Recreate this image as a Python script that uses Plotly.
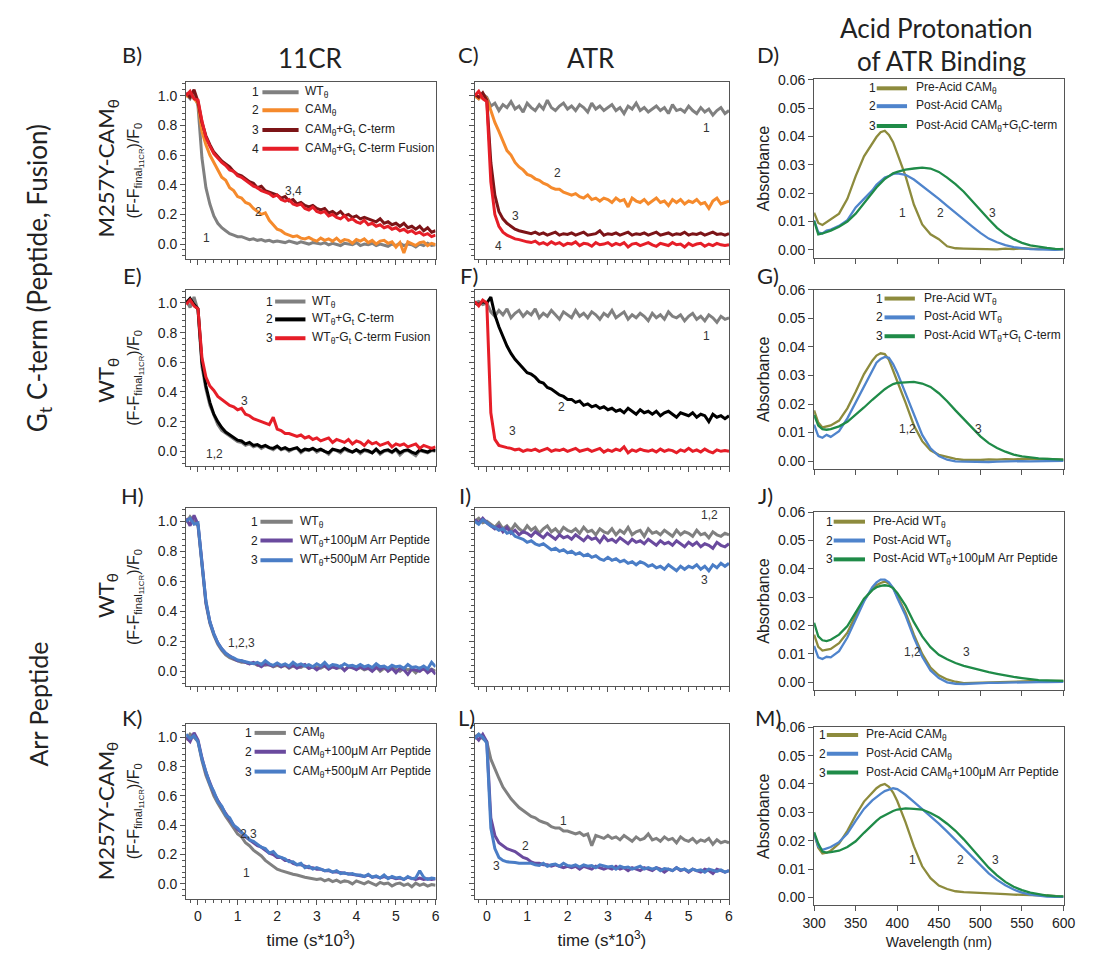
import plotly.graph_objects as go

FIG_W, FIG_H = 1100, 959

# ---------------- data ----------------
T = [-0.3, -0.2, -0.1, 0.0,
     0.1, 0.2, 0.3, 0.4, 0.5, 0.6, 0.7, 0.8, 0.9, 1.0,
     1.1, 1.2, 1.3, 1.4, 1.5, 1.6, 1.7, 1.8, 1.9, 2.0,
     2.1, 2.2, 2.3, 2.4, 2.5, 2.6, 2.7, 2.8, 2.9, 3.0,
     3.1, 3.2, 3.3, 3.4, 3.5, 3.6, 3.7, 3.8, 3.9, 4.0,
     4.1, 4.2, 4.3, 4.4, 4.5, 4.6, 4.7, 4.8, 4.9, 5.0,
     5.1, 5.2, 5.3, 5.4, 5.5, 5.6, 5.7, 5.8, 5.9, 6.0]

# B) 11CR, M257Y-CAM
B_WT = [1.01, 0.98, 1.03, 0.93,
        0.58, 0.38, 0.27, 0.19, 0.14, 0.11, 0.09, 0.07, 0.06, 0.05,
        0.05, 0.04, 0.03, 0.035, 0.025, 0.03, 0.02, 0.025, 0.015, 0.02,
        0.015, 0.01, 0.02, 0.01, 0.005, 0.015, 0.01, 0.0, 0.01, 0.005,
        0.0, 0.01, -0.005, 0.005, 0.0, -0.01, 0.005, 0.0, -0.005, 0.01,
        -0.01, 0.0, -0.005, 0.005, -0.01, 0.0, -0.005, -0.015, 0.0, -0.01,
        0.005, -0.01, 0.0, -0.005, -0.02, 0.0, -0.01, 0.005, -0.01, -0.005]
B_CAM = [0.99, 1.02, 0.98, 0.95,
         0.76, 0.67, 0.6, 0.55, 0.5, 0.45, 0.43, 0.38, 0.36, 0.32,
         0.31, 0.28, 0.27, 0.24, 0.22, 0.2, 0.21, 0.16, 0.13, 0.1,
         0.09, 0.07, 0.06, 0.05, 0.055, 0.04, 0.035, 0.045, 0.03, 0.02,
         0.04, 0.025, 0.035, 0.02, 0.04, 0.015, 0.03, 0.025, 0.005, 0.03,
         0.02, 0.035, 0.01, 0.025, 0.0, 0.02, 0.025, 0.005, 0.015, -0.02,
         0.01, -0.06, 0.015, 0.0, -0.01, 0.01, 0.015, -0.01, 0.005, -0.005]
B_GT = [1.02, 0.99, 1.04, 0.96,
        0.82, 0.73, 0.67, 0.62, 0.59, 0.56, 0.54, 0.52, 0.49, 0.47,
        0.46, 0.44, 0.42, 0.41, 0.38, 0.39, 0.36, 0.35, 0.34, 0.33,
        0.31, 0.32, 0.29, 0.3, 0.27, 0.28, 0.26, 0.25, 0.26, 0.24,
        0.23, 0.24, 0.21, 0.22, 0.2, 0.22, 0.19, 0.2, 0.18, 0.19,
        0.17, 0.18, 0.17, 0.16, 0.15, 0.17, 0.14, 0.15, 0.13, 0.14,
        0.12, 0.14, 0.11, 0.12, 0.1, 0.12, 0.09, 0.11, 0.08, 0.09]
B_FUS = [1.0, 1.03, 0.98, 0.97,
         0.83, 0.72, 0.66, 0.61, 0.58, 0.55, 0.53, 0.5, 0.49, 0.46,
         0.45, 0.43, 0.41, 0.39, 0.38, 0.36, 0.35, 0.34, 0.32, 0.33,
         0.3, 0.29, 0.3, 0.27, 0.26, 0.27, 0.24, 0.23, 0.25, 0.22,
         0.21, 0.22, 0.19, 0.2, 0.18, 0.17, 0.19, 0.16, 0.17, 0.15,
         0.14, 0.16, 0.13, 0.14, 0.12, 0.13, 0.11, 0.12, 0.1, 0.11,
         0.09, 0.1, 0.08, 0.09, 0.07, 0.08, 0.06, 0.07, 0.05, 0.06]

# C) ATR, M257Y-CAM
C_WT = [1.0, 0.98, 1.01, 0.99,
        0.93, 0.95, 0.9, 0.94, 0.92, 0.96, 0.91, 0.93, 0.89, 0.95,
        0.92, 0.9, 0.94, 0.91, 0.97, 0.92, 0.9, 0.93, 0.95, 0.91,
        0.93, 0.9, 0.94, 0.92, 0.89, 0.95, 0.91, 0.93, 0.9, 0.92,
        0.94, 0.9, 0.92, 0.88, 0.93, 0.91, 0.95, 0.9, 0.92, 0.89,
        0.91, 0.93, 0.9, 0.92, 0.88, 0.94, 0.9, 0.91, 0.89, 0.93,
        0.9, 0.88, 0.92, 0.89, 0.91, 0.87, 0.9, 0.92, 0.88, 0.9]
C_CAM = [1.0, 0.98, 1.01, 0.98,
         0.9, 0.82, 0.76, 0.69, 0.63, 0.6, 0.55, 0.52, 0.5, 0.47,
         0.46, 0.44, 0.43, 0.41, 0.4, 0.38, 0.37, 0.37, 0.35, 0.34,
         0.33, 0.34, 0.32, 0.31, 0.33, 0.3, 0.31, 0.29, 0.31, 0.3,
         0.28, 0.31, 0.29, 0.3, 0.25, 0.31, 0.29, 0.28, 0.3, 0.27,
         0.29, 0.31, 0.28, 0.29, 0.26, 0.3, 0.28, 0.3, 0.27, 0.29,
         0.28, 0.3, 0.27, 0.28, 0.24, 0.29, 0.31, 0.27, 0.28, 0.29]
C_GT = [1.01, 0.99, 1.02, 0.97,
        0.55, 0.33, 0.22, 0.17, 0.14, 0.12, 0.1, 0.09, 0.085, 0.08,
        0.07, 0.08, 0.065, 0.075, 0.06, 0.07, 0.08, 0.06, 0.07, 0.065,
        0.075, 0.06, 0.07, 0.08, 0.06, 0.065, 0.07, 0.09, 0.06, 0.07,
        0.065, 0.075, 0.06, 0.07, 0.08, 0.06, 0.07, 0.065, 0.075, 0.06,
        0.07, 0.08, 0.06, 0.065, 0.075, 0.06, 0.07, 0.065, 0.08, 0.06,
        0.07, 0.065, 0.075, 0.06, 0.07, 0.08, 0.065, 0.07, 0.06, 0.07]
C_FUS = [1.0, 1.03, 0.98, 0.96,
         0.42, 0.2, 0.12, 0.08, 0.06, 0.045, 0.035, 0.03, 0.02, 0.015,
         0.01, 0.02, 0.0, 0.01, -0.005, 0.015, 0.0, 0.01, -0.01, 0.005,
         0.0, 0.015, -0.01, 0.005, 0.0, -0.015, 0.01, -0.005, 0.0, 0.01,
         -0.01, 0.005, -0.005, 0.01, -0.02, 0.0, 0.005, -0.01, 0.0, 0.01,
         -0.005, -0.015, 0.005, 0.0, -0.01, 0.01, -0.005, 0.0, -0.02, 0.005,
         -0.01, 0.0, 0.005, -0.015, 0.0, -0.01, 0.005, -0.005, -0.01, -0.005]

# E) 11CR, WT
E_WT = [1.02, 0.97, 1.04, 0.95,
        0.57, 0.42, 0.31, 0.24, 0.18, 0.14, 0.12, 0.1, 0.08, 0.065,
        0.06, 0.04, 0.05, 0.03, 0.04, 0.02, 0.035, 0.02, 0.01, 0.03,
        0.01, 0.02, 0.0, 0.015, 0.02, -0.01, 0.01, 0.005, 0.02, -0.005,
        0.01, 0.0, -0.02, 0.01, 0.005, -0.01, 0.015, 0.0, -0.005, 0.01,
        -0.015, 0.005, 0.0, -0.01, 0.01, -0.02, 0.0, 0.005, -0.01, 0.01,
        -0.025, 0.0, 0.005, -0.01, -0.03, 0.005, 0.0, -0.01, 0.005, 0.0]
E_GT = [1.0, 1.03, 0.99, 0.96,
        0.6, 0.44, 0.33, 0.25, 0.2, 0.16, 0.13, 0.11, 0.09, 0.075,
        0.07, 0.05, 0.06, 0.04, 0.045, 0.03, 0.04, 0.025, 0.02, 0.035,
        0.015, 0.025, 0.01, 0.02, 0.025, 0.0, 0.015, 0.01, 0.02, 0.005,
        0.015, 0.0, -0.01, 0.015, 0.005, 0.0, 0.02, 0.005, -0.005, 0.01,
        -0.005, 0.01, 0.005, -0.01, 0.015, -0.01, 0.005, 0.01, -0.005, 0.015,
        -0.01, 0.005, 0.01, -0.005, -0.015, 0.01, 0.0, -0.005, 0.01, 0.005]
E_FUS = [0.99, 1.02, 0.98, 0.96,
         0.63, 0.5, 0.44, 0.41, 0.37, 0.35, 0.33, 0.31, 0.3, 0.28,
         0.29, 0.25, 0.24, 0.22, 0.21, 0.2, 0.19, 0.18, 0.23, 0.15,
         0.14, 0.12, 0.12, 0.11, 0.1, 0.11, 0.09, 0.1, 0.08, 0.09,
         0.07, 0.08, 0.09, 0.06, 0.08, 0.07, 0.06, 0.08, 0.05, 0.07,
         0.06, 0.04, 0.07, 0.05, 0.06, 0.04, 0.05, 0.06, 0.03, 0.05,
         0.04, 0.05, 0.03, 0.04, 0.05, 0.02, 0.04, 0.03, 0.02, 0.03]

# F) ATR, WT
F_WT = [1.0, 1.01, 0.99, 1.0,
        0.94, 0.91, 0.95, 0.92, 0.96, 0.9, 0.93, 0.95, 0.91, 0.94,
        0.92, 0.96, 0.9, 0.93, 0.91, 0.95, 0.92, 0.89, 0.94, 0.92,
        0.9, 0.95, 0.91, 0.93, 0.9, 0.94, 0.92, 0.89, 0.93, 0.91,
        0.95, 0.9, 0.92, 0.94, 0.89, 0.92, 0.9, 0.93, 0.91, 0.88,
        0.93, 0.9, 0.92, 0.89, 0.94, 0.91, 0.9, 0.92, 0.88, 0.91,
        0.93, 0.89, 0.91, 0.88, 0.92, 0.9, 0.87, 0.91, 0.89, 0.9]
F_GT = [1.0, 0.99, 1.01, 1.0,
        1.04, 0.92, 0.84, 0.77, 0.71, 0.66, 0.62, 0.59, 0.56, 0.53,
        0.52, 0.5, 0.47, 0.46, 0.43, 0.42, 0.4, 0.38, 0.37, 0.35,
        0.35, 0.33, 0.34, 0.31, 0.32, 0.3, 0.31, 0.29, 0.3, 0.28,
        0.29, 0.27, 0.28, 0.26, 0.29, 0.27, 0.25, 0.28, 0.26, 0.27,
        0.25, 0.27, 0.24, 0.26, 0.27, 0.25, 0.23, 0.26, 0.25, 0.24,
        0.26, 0.23, 0.25, 0.24, 0.2, 0.25, 0.23, 0.24, 0.22, 0.24]
F_FUS = [1.01, 0.98, 1.02, 1.0,
         0.26, 0.08, 0.04, 0.03, 0.025, 0.02, 0.01, 0.015, 0.0, 0.01,
         0.005, 0.015, 0.0, 0.01, 0.02, 0.0, 0.01, 0.005, 0.015, 0.0,
         0.01, 0.02, 0.0, 0.005, 0.015, 0.0, 0.01, 0.02, -0.005, 0.01,
         0.0, 0.015, 0.005, 0.03, -0.01, 0.01, 0.0, 0.015, 0.005, 0.0,
         0.01, -0.005, 0.015, 0.0, 0.01, 0.005, -0.01, 0.01, 0.0, 0.02,
         0.0, 0.01, -0.005, 0.015, 0.0, -0.01, 0.01, 0.0, 0.005, 0.0]

# H) 11CR, WT + Arr peptide
H_WT = [0.99, 1.03, 1.0, 0.97,
        0.71, 0.45, 0.32, 0.24, 0.18, 0.14, 0.11, 0.09, 0.08, 0.07,
        0.06, 0.06, 0.05, 0.055, 0.04, 0.05, 0.04, 0.045, 0.03, 0.04,
        0.03, 0.04, 0.02, 0.035, 0.03, 0.025, 0.04, 0.02, 0.03, 0.025,
        0.02, 0.035, 0.015, 0.03, 0.02, 0.025, 0.01, 0.03, 0.02, 0.015,
        0.025, 0.01, 0.02, 0.015, 0.03, 0.0, 0.02, 0.01, 0.025, 0.015,
        0.0, 0.02, 0.01, 0.015, -0.01, 0.02, 0.01, 0.005, 0.015, 0.0]
H_100 = [1.02, 0.97, 1.04, 0.98,
         0.73, 0.46, 0.33, 0.25, 0.19, 0.15, 0.12, 0.1, 0.085, 0.07,
         0.07, 0.06, 0.05, 0.06, 0.045, 0.03, 0.05, 0.04, 0.035, 0.05,
         0.03, 0.045, 0.025, 0.04, 0.02, 0.035, 0.045, 0.02, 0.03, 0.01,
         0.03, 0.04, 0.015, 0.03, 0.02, 0.035, 0.005, 0.03, 0.025, 0.01,
         0.03, 0.015, 0.02, 0.0, 0.025, 0.01, 0.03, 0.0, 0.02, -0.01,
         0.02, 0.01, -0.02, 0.015, 0.01, 0.0, 0.02, -0.01, 0.01, -0.02]
H_500 = [1.0, 1.02, 0.98, 0.99,
         0.72, 0.47, 0.33, 0.25, 0.19, 0.15, 0.12, 0.1, 0.09, 0.075,
         0.07, 0.065, 0.06, 0.05, 0.06, 0.045, 0.07, 0.05, 0.04, 0.055,
         0.04, 0.05, 0.035, 0.06, 0.04, 0.05, 0.035, 0.045, 0.03, 0.05,
         0.035, 0.06, 0.03, 0.045, 0.04, 0.03, 0.05, 0.035, 0.04, 0.03,
         0.045, 0.03, 0.04, 0.025, 0.05, 0.03, 0.035, 0.02, 0.04, 0.03,
         0.035, 0.02, 0.045, 0.025, 0.03, 0.02, 0.035, 0.015, 0.06, 0.03]

# I) ATR, WT + Arr peptide
I_WT = [1.0, 1.02, 0.99, 1.0,
        0.98, 0.96, 0.99, 0.95, 0.97, 0.94, 0.98, 0.95, 0.93, 0.97,
        0.94, 0.96, 0.92, 0.95, 0.97, 0.93, 0.95, 0.92, 0.96, 0.94,
        0.93, 0.95, 0.92, 0.96, 0.93, 0.94, 0.91, 0.95, 0.93, 0.92,
        0.95, 0.91, 0.94, 0.92, 0.96, 0.91, 0.93, 0.94, 0.9, 0.95,
        0.92, 0.93, 0.91, 0.94, 0.92, 0.9, 0.94, 0.91, 0.93, 0.92,
        0.9, 0.94, 0.91, 0.92, 0.89, 0.93, 0.91, 0.9, 0.92, 0.91]
I_100 = [1.01, 0.99, 1.02, 0.99,
         0.97, 0.95, 0.97, 0.93, 0.96, 0.92, 0.94, 0.91, 0.93, 0.92,
         0.9, 0.93, 0.91, 0.89, 0.92, 0.9, 0.88, 0.91, 0.89, 0.9,
         0.88, 0.91, 0.89, 0.87, 0.9, 0.88, 0.89, 0.86, 0.9, 0.87,
         0.88, 0.86, 0.89, 0.87, 0.85, 0.88, 0.86, 0.87, 0.85, 0.88,
         0.86, 0.84, 0.87, 0.85, 0.86, 0.84, 0.87, 0.85, 0.83, 0.86,
         0.84, 0.86, 0.83, 0.85, 0.84, 0.82, 0.86, 0.84, 0.83, 0.85]
I_500 = [1.0, 0.98, 1.01, 0.99,
         0.97, 0.96, 0.94, 0.95, 0.92, 0.93, 0.9, 0.89, 0.88, 0.86,
         0.87, 0.85, 0.84, 0.85, 0.83, 0.81, 0.82, 0.8, 0.81, 0.79,
         0.8, 0.78, 0.79, 0.77, 0.78, 0.76, 0.77, 0.75, 0.74, 0.76,
         0.74, 0.75, 0.73, 0.74, 0.72, 0.73, 0.71, 0.73, 0.72, 0.7,
         0.71, 0.69, 0.7, 0.68, 0.71, 0.69, 0.67, 0.7, 0.68, 0.7,
         0.69, 0.71, 0.68, 0.7, 0.67, 0.71, 0.69, 0.72, 0.7, 0.72]

# K) 11CR, CAM + Arr peptide
K_CAM = [0.98, 1.02, 1.0, 0.97,
         0.84, 0.74, 0.67, 0.6, 0.55, 0.5, 0.46, 0.42, 0.38, 0.34,
         0.32, 0.28, 0.26, 0.23, 0.21, 0.19, 0.16, 0.14, 0.12, 0.1,
         0.09, 0.08, 0.07, 0.065, 0.06, 0.05, 0.045, 0.04, 0.035, 0.03,
         0.035, 0.02, 0.03, 0.015, 0.025, 0.01, 0.02, 0.015, 0.0, 0.02,
         0.01, 0.0, 0.015, 0.005, -0.01, 0.01, 0.0, 0.005, -0.015, 0.0,
         0.005, -0.01, 0.0, -0.02, 0.005, -0.01, 0.0, -0.015, -0.005, -0.01]
K_100 = [1.0, 0.97, 1.03, 0.98,
         0.86, 0.76, 0.69, 0.62, 0.57, 0.52, 0.48, 0.44, 0.4, 0.37,
         0.35, 0.32, 0.3, 0.28, 0.26, 0.25, 0.23, 0.21, 0.2, 0.18,
         0.18, 0.16, 0.16, 0.14, 0.13, 0.13, 0.12, 0.11, 0.11, 0.1,
         0.1, 0.09, 0.09, 0.08, 0.08, 0.075, 0.07, 0.065, 0.06, 0.06,
         0.055, 0.05, 0.06, 0.045, 0.05, 0.04, 0.05, 0.04, 0.045, 0.035,
         0.04, 0.03, 0.045, 0.035, 0.03, 0.04, 0.03, 0.035, 0.03, 0.035]
K_500 = [1.02, 0.99, 1.01, 0.97,
         0.85, 0.77, 0.68, 0.63, 0.56, 0.53, 0.47, 0.45, 0.4, 0.38,
         0.35, 0.33, 0.3, 0.29, 0.27, 0.25, 0.24, 0.21, 0.22, 0.19,
         0.18, 0.17, 0.15, 0.15, 0.13, 0.14, 0.11, 0.12, 0.1, 0.11,
         0.1, 0.09, 0.095, 0.08, 0.09, 0.07, 0.075, 0.065, 0.07, 0.06,
         0.06, 0.05, 0.065, 0.045, 0.055, 0.04, 0.06, 0.035, 0.05, 0.04,
         0.045, 0.03, 0.05, 0.035, 0.04, 0.09, 0.045, 0.03, 0.04, 0.035]

# L) ATR, CAM + Arr peptide
L_CAM = [1.0, 1.02, 0.99, 0.97,
         0.85, 0.78, 0.72, 0.66, 0.62, 0.58, 0.55, 0.52, 0.5, 0.48,
         0.46, 0.45, 0.43, 0.42, 0.41, 0.39, 0.38, 0.38, 0.36, 0.36,
         0.35, 0.34, 0.35, 0.33, 0.34, 0.26, 0.33, 0.32, 0.31, 0.33,
         0.31, 0.32, 0.3, 0.33, 0.31, 0.29, 0.32, 0.3, 0.31, 0.34,
         0.3, 0.31, 0.29, 0.32, 0.3, 0.31, 0.28, 0.32, 0.3, 0.29,
         0.31, 0.28, 0.3, 0.29, 0.31, 0.27, 0.3, 0.28, 0.29, 0.28]
L_100 = [1.01, 0.98, 1.02, 0.97,
         0.45, 0.33, 0.28, 0.26, 0.24, 0.23, 0.22, 0.2, 0.18, 0.17,
         0.15, 0.14, 0.14, 0.13, 0.13, 0.12, 0.13, 0.12, 0.11, 0.12,
         0.11, 0.12, 0.1, 0.12, 0.11, 0.1, 0.12, 0.11, 0.1, 0.11,
         0.1, 0.12, 0.1, 0.11, 0.09, 0.11, 0.1, 0.09, 0.11, 0.1,
         0.09, 0.11, 0.1, 0.08, 0.1, 0.09, 0.11, 0.09, 0.1, 0.08,
         0.1, 0.09, 0.08, 0.1, 0.09, 0.07, 0.1, 0.09, 0.08, 0.09]
L_500 = [0.99, 1.02, 1.0, 0.96,
         0.38, 0.24, 0.18, 0.16, 0.15, 0.15, 0.145, 0.14, 0.14, 0.135,
         0.14, 0.13, 0.125, 0.14, 0.12, 0.13, 0.135, 0.12, 0.14, 0.125,
         0.12, 0.13, 0.115, 0.13, 0.12, 0.125, 0.11, 0.13, 0.12, 0.115,
         0.12, 0.1, 0.12, 0.11, 0.115, 0.1, 0.11, 0.12, 0.1, 0.11,
         0.1, 0.11, 0.09, 0.105, 0.1, 0.09, 0.11, 0.095, 0.1, 0.085,
         0.1, 0.09, 0.095, 0.08, 0.1, 0.09, 0.085, 0.095, 0.08, 0.09]

# Absorbance spectra
WL = [300, 305, 310, 315, 320, 330, 340, 350, 360, 370, 375, 380, 385, 390, 395,
      400, 410, 420, 430, 440, 450, 460, 470, 480, 490, 500, 510, 520, 530, 540,
      550, 560, 570, 580, 590, 600]

D_PRE = [0.0131, 0.0095, 0.0088, 0.0098, 0.0106, 0.0128, 0.018, 0.026, 0.033, 0.0375,
         0.0398, 0.0415, 0.042, 0.0405, 0.038, 0.034, 0.026, 0.016, 0.009, 0.0055,
         0.0038, 0.0013, 0.0006, 0.0005, 0.0004, 0.0003, 0.0004, 0.0002, 0.0005, 0.0003,
         0.0006, 0.0004, 0.0003, 0.0005, 0.0002, 0.0004]
D_POST = [0.0105, 0.0062, 0.0058, 0.0068, 0.0072, 0.0085, 0.0105, 0.015, 0.018, 0.021,
          0.023, 0.0242, 0.0255, 0.026, 0.0268, 0.027, 0.0265, 0.0248, 0.0225, 0.0205,
          0.018, 0.0155, 0.013, 0.0108, 0.0083, 0.006, 0.004, 0.0027, 0.0017, 0.001,
          0.0006, 0.0003, 0.0002, 0.0001, 0.0, 0.0002]
D_GT = [0.0102, 0.0055, 0.0058, 0.0062, 0.0068, 0.0082, 0.01, 0.0128, 0.0165, 0.0205,
        0.022, 0.0235, 0.025, 0.026, 0.027, 0.0275, 0.0283, 0.0287, 0.029, 0.0287,
        0.0275, 0.0255, 0.0232, 0.0205, 0.0172, 0.014, 0.0108, 0.0078, 0.0055, 0.0038,
        0.0025, 0.0016, 0.0011, 0.0007, 0.0004, 0.0003]

G_PRE = [0.0178, 0.0135, 0.0118, 0.0122, 0.0125, 0.0142, 0.0185, 0.0243, 0.0305, 0.0352,
         0.037, 0.0378, 0.0375, 0.0355, 0.032, 0.028, 0.0205, 0.0125, 0.007, 0.0038,
         0.0022, 0.0014, 0.0008, 0.0004, 0.0003, 0.0004, 0.0006, 0.0005, 0.0007, 0.0006,
         0.0008, 0.0007, 0.0006, 0.0008, 0.0006, 0.0005]
G_POST = [0.0128, 0.0088, 0.0082, 0.0092, 0.0085, 0.0105, 0.015, 0.0205, 0.0265, 0.032,
          0.0345, 0.0358, 0.0365, 0.0362, 0.034, 0.031, 0.0238, 0.016, 0.0092, 0.0045,
          0.0018, 0.0005, -0.0001, -0.0002, -0.0003, -0.0002, -0.0003, -0.0002, -0.0001, -0.0002,
          0.0, -0.0001, 0.0, 0.0001, 0.0, 0.0001]
G_GT = [0.0162, 0.0125, 0.0112, 0.011, 0.0112, 0.0122, 0.0138, 0.0162, 0.0188, 0.0215,
        0.0228, 0.024, 0.0252, 0.0262, 0.027, 0.0274, 0.0277, 0.0278, 0.0272, 0.026,
        0.0238, 0.021, 0.0178, 0.0148, 0.0118, 0.0087, 0.0063, 0.0046, 0.0033, 0.0023,
        0.0017, 0.0013, 0.001, 0.0008, 0.0006, 0.0005]

J_PRE = [0.0168, 0.0125, 0.0112, 0.0115, 0.0118, 0.0138, 0.0175, 0.0235, 0.029, 0.0328,
         0.0342, 0.035, 0.0355, 0.0348, 0.0332, 0.0305, 0.0245, 0.0168, 0.01, 0.0052,
         0.0025, 0.001, 0.0002, -0.0003, -0.0002, 0.0, 0.0001, 0.0002, 0.0002, 0.0003,
         0.0003, 0.0004, 0.0004, 0.0005, 0.0004, 0.0005]
J_POST = [0.0128, 0.0088, 0.0082, 0.009, 0.0088, 0.011, 0.0158, 0.022, 0.0285, 0.0335,
          0.0352, 0.0362, 0.0362, 0.0352, 0.0332, 0.0298, 0.0235, 0.0158, 0.009, 0.0042,
          0.0015, 0.0, -0.0005, -0.0006, -0.0004, -0.0003, -0.0002, -0.0002, -0.0001, -0.0001,
          0.0, 0.0, 0.0001, 0.0001, 0.0001, 0.0002]
J_ARR = [0.021, 0.0162, 0.0148, 0.0145, 0.015, 0.0168, 0.0198, 0.0245, 0.0295, 0.0325,
         0.0335, 0.034, 0.0342, 0.034, 0.0332, 0.0315, 0.027, 0.0212, 0.0162, 0.0124,
         0.0097, 0.0081, 0.0068, 0.0058, 0.005, 0.0043, 0.0036, 0.003, 0.0024, 0.0019,
         0.0015, 0.0011, 0.0008, 0.0007, 0.0006, 0.0005]

M_PRE = [0.0225, 0.0175, 0.0155, 0.0158, 0.0165, 0.019, 0.0235, 0.029, 0.0338, 0.0368,
         0.0385, 0.0395, 0.04, 0.039, 0.037, 0.034, 0.0265, 0.018, 0.011, 0.0068,
         0.0042, 0.003, 0.0022, 0.0019, 0.0018, 0.0016, 0.0015, 0.0014, 0.0012, 0.001,
         0.001, 0.0009, 0.0008, 0.0007, 0.0005, 0.0003]
M_POST = [0.0225, 0.018, 0.0168, 0.0172, 0.0178, 0.0195, 0.0225, 0.027, 0.0312, 0.0342,
          0.0355, 0.0365, 0.0375, 0.038, 0.0385, 0.0382, 0.0362, 0.0337, 0.0312, 0.0287,
          0.026, 0.0232, 0.0202, 0.0172, 0.0142, 0.0112, 0.0085, 0.0062, 0.0043, 0.0028,
          0.0017, 0.001, 0.0006, 0.0003, 0.0002, 0.0002]
M_ARR = [0.023, 0.019, 0.0162, 0.0158, 0.016, 0.0165, 0.0178, 0.0198, 0.0228, 0.0258,
         0.027, 0.0282, 0.029, 0.0298, 0.0305, 0.031, 0.0314, 0.0312, 0.031, 0.0298,
         0.0282, 0.026, 0.0235, 0.0205, 0.0172, 0.0138, 0.0105, 0.0078, 0.0055, 0.0038,
         0.0026, 0.0017, 0.0011, 0.0007, 0.0005, 0.0004]

KIN_YTICKS = [0.0, 0.2, 0.4, 0.6, 0.8, 1.0]
KIN_XTICKS = [0, 1, 2, 3, 4, 5, 6]
ABS_YTICKS = [0.0, 0.01, 0.02, 0.03, 0.04, 0.05, 0.06]
ABS_XTICKS = [300, 350, 400, 450, 500, 550, 600]

# ---------------- styles ----------------
GRAY = "#808080"
ORANGE = "#f58a2c"
DARKRED = "#7c1417"
RED = "#e61e28"
BLACK = "#000000"
PURPLE = "#6a4a9e"
BLUE = "#4a7dc6"
OLIVE = "#8d8b3d"
GREEN = "#1f8b48"
ABLUE = "#4f84cc"

ARIAL = "Liberation Sans, Arial, sans-serif"
CALIBRI = "Lato, Open Sans, sans-serif"
TXT = "#222222"

COLS_K = [(178, 433), (473, 733)]
COL_A = (820, 1075)
ROWS_K = [(75, 253), (284, 462), (504, 684), (722, 898)]
ROWS_A = [(72, 252), (284, 465), (508, 688), (725, 905)]


def px_x(px):
    return px / FIG_W


def px_y(py):
    return 1 - py / FIG_H


TH = "<sub>θ</sub>"
GTS = "G<sub>t</sub>"

panels = {
    (0, 0): dict(series=[(B_WT, GRAY), (B_CAM, ORANGE), (B_GT, DARKRED), (B_FUS, RED)],
                 legend=dict(nx=249, lx0=256, lx1=293, tx=298, ys=[85, 103, 123, 142],
                             texts=["WT" + TH, "CAM" + TH, "CAM" + TH + "+" + GTS + " C-term",
                                    "CAM" + TH + "+" + GTS + " C-term Fusion"]),
                 labels=[("1", 0.21, 0.04), ("2", 1.52, 0.215), ("3,4", 2.41, 0.36)]),
    (0, 1): dict(series=[(C_WT, GRAY), (C_CAM, ORANGE), (C_GT, DARKRED), (C_FUS, RED)],
                 labels=[("1", 5.43, 0.78), ("2", 1.76, 0.48), ("3", 0.71, 0.19), ("4", 0.28, -0.01)]),
    (0, 2): dict(series=[(D_PRE, OLIVE), (D_POST, ABLUE), (D_GT, GREEN)],
                 legend=dict(nx=880, lx0=884, lx1=915, tx=922, ys=[81, 99, 119],
                             texts=["Pre-Acid CAM" + TH, "Post-Acid CAM" + TH,
                                    "Post-Acid CAM" + TH + "+" + GTS + "C-term"]),
                 labels=[("1", 406, 0.013), ("2", 452, 0.013), ("3", 515, 0.013)]),
    (1, 0): dict(series=[(E_WT, GRAY), (E_GT, BLACK), (E_FUS, RED)],
                 legend=dict(nx=263, lx0=269, lx1=300, tx=305, ys=[296, 314, 333],
                             texts=["WT" + TH, "WT" + TH + "+" + GTS + " C-term",
                                    "WT" + TH + "-" + GTS + " C-term Fusion"]),
                 labels=[("1,2", 0.41, -0.015), ("3", 1.18, 0.34)]),
    (1, 1): dict(series=[(F_WT, GRAY), (F_GT, BLACK), (F_FUS, RED)],
                 labels=[("1", 5.43, 0.78), ("2", 1.84, 0.30), ("3", 0.63, 0.14)]),
    (1, 2): dict(series=[(G_PRE, OLIVE), (G_POST, ABLUE), (G_GT, GREEN)],
                 legend=dict(nx=887, lx0=892, lx1=923, tx=930, ys=[293, 312, 331],
                             texts=["Pre-Acid WT" + TH, "Post-Acid WT" + TH,
                                    "Post-Acid WT" + TH + "+" + GTS + " C-term"]),
                 labels=[("1,2", 412, 0.0114), ("3", 498, 0.0114)]),
    (2, 0): dict(series=[(H_WT, GRAY), (H_100, PURPLE), (H_500, BLUE)],
                 legend=dict(nx=248, lx0=254, lx1=287, tx=292, ys=[518, 537, 557],
                             texts=["WT" + TH, "WT" + TH + "+100μM Arr Peptide",
                                    "WT" + TH + "+500μM Arr Peptide"]),
                 labels=[("1,2,3", 1.11, 0.19)]),
    (2, 1): dict(series=[(I_WT, GRAY), (I_100, PURPLE), (I_500, BLUE)],
                 labels=[("1,2", 5.51, 1.04), ("3", 5.4, 0.61)]),
    (2, 2): dict(series=[(J_PRE, OLIVE), (J_POST, ABLUE), (J_ARR, GREEN)],
                 legend=dict(nx=836, lx0=840, lx1=872, tx=878, ys=[518, 537, 556],
                             texts=["Pre-Acid WT" + TH, "Post-Acid WT" + TH,
                                    "Post-Acid WT" + TH + "+100μM Arr Peptide"]),
                 labels=[("1,2", 418, 0.0108), ("3", 483, 0.0108)]),
    (3, 0): dict(series=[(K_CAM, GRAY), (K_100, PURPLE), (K_500, BLUE)],
                 legend=dict(nx=242, lx0=248, lx1=280, tx=285, ys=[731, 750, 770],
                             texts=["CAM" + TH, "CAM" + TH + "+100μM Arr Peptide",
                                    "CAM" + TH + "+500μM Arr Peptide"]),
                 labels=[("2,3", 1.28, 0.34), ("1", 1.23, 0.074)]),
    (3, 1): dict(series=[(L_CAM, GRAY), (L_100, PURPLE), (L_500, BLUE)],
                 labels=[("1", 1.89, 0.43), ("2", 0.95, 0.26), ("3", 0.25, 0.12)]),
    (3, 2): dict(series=[(M_PRE, OLIVE), (M_POST, ABLUE), (M_ARR, GREEN)],
                 legend=dict(nx=829, lx0=833, lx1=865, tx=871, ys=[733, 752, 771],
                             texts=["Pre-Acid CAM" + TH, "Post-Acid CAM" + TH,
                                    "Post-Acid CAM" + TH + "+100μM Arr Peptide"]),
                 labels=[("1", 418, 0.0133), ("2", 476, 0.0133), ("3", 518, 0.0133)]),
}

fig = go.Figure()
layout = dict(width=FIG_W, height=FIG_H, margin=dict(l=0, r=0, t=0, b=0),
              plot_bgcolor="white", paper_bgcolor="white", showlegend=False,
              font=dict(family=ARIAL, color=TXT, size=12))
annotations = []
shapes = []


def paper_text(text, x, y, size, family=ARIAL, angle=0, xanchor="center"):
    return dict(x=px_x(x), y=px_y(y), xref="paper", yref="paper", text=text,
                showarrow=False, xanchor=xanchor, yanchor="middle", textangle=angle,
                font=dict(family=family, size=size, color=TXT))


for (r, c), spec in panels.items():
    p = r * 3 + c + 1
    sid = "" if p == 1 else str(p)
    is_abs = (c == 2)
    if is_abs:
        dx = COL_A
        dy = ROWS_A[r]
    else:
        dx = COLS_K[c]
        dy = ROWS_K[r]
    xdom = [px_x(dx[0]), px_x(dx[1])]
    ydom = [px_y(dy[1]), px_y(dy[0])]

    xs = WL if is_abs else T
    for vals, col in spec["series"]:
        fig.add_trace(go.Scatter(x=xs, y=vals, mode="lines", xaxis="x" + sid, yaxis="y" + sid,
                                 line=dict(color=col, width=2.3 if is_abs else 3.0),
                                 hoverinfo="skip"))

    common = dict(showline=True, linecolor="#555555", linewidth=1, mirror=True,
                  showgrid=False, zeroline=False, ticks="outside", tickcolor="#555555",
                  ticklen=5, tickfont=dict(family=ARIAL, size=14, color=TXT))
    if is_abs:
        xa = dict(common, domain=xdom, anchor="y" + sid, range=[300, 600],
                  tickvals=ABS_XTICKS, showticklabels=(r == 3))
        ya = dict(common, domain=ydom, anchor="x" + sid, range=[-0.0028, 0.0601],
                  tickvals=ABS_YTICKS, tickformat=".2f",
                  title=dict(text="Absorbance", font=dict(family=ARIAL, size=16, color=TXT),
                             standoff=4))
        if r == 3:
            xa["title"] = dict(text="Wavelength (nm)", font=dict(family=ARIAL, size=14, color=TXT),
                               standoff=6)
    else:
        xa = dict(common, domain=xdom, anchor="y" + sid, range=[-0.3, 6.0],
                  tickvals=KIN_XTICKS, showticklabels=(r == 3),
                  minor=dict(ticks="outside", ticklen=3, dtick=0.2, tick0=0, tickcolor="#555555",
                             showgrid=False))
        ya = dict(common, domain=ydom, anchor="x" + sid, range=[-0.1, 1.09],
                  tickvals=KIN_YTICKS, tickformat=".1f", showticklabels=(c == 0),
                  minor=dict(ticks="outside", ticklen=3, dtick=0.04, tick0=0, tickcolor="#555555",
                             showgrid=False))
        if c == 0:
            ya["title"] = dict(text="(F-F<sub>final<sub>11CR</sub></sub>)/F<sub>0</sub>",
                               font=dict(family=ARIAL, size=16, color=TXT), standoff=14)
        if r == 3:
            xa["title"] = dict(text="time (s*10<sup>3</sup>)",
                               font=dict(family=ARIAL, size=17, color=TXT), standoff=10)
    layout["xaxis" + sid] = xa
    layout["yaxis" + sid] = ya

    # legend (number, line sample, text)
    lg = spec.get("legend")
    if lg:
        for i, (yy, txt) in enumerate(zip(lg["ys"], lg["texts"])):
            col = spec["series"][i][1]
            annotations.append(paper_text(str(i + 1), lg["nx"], yy, 12))
            shapes.append(dict(type="line", xref="paper", yref="paper",
                               x0=px_x(lg["lx0"]), x1=px_x(lg["lx1"]), y0=px_y(yy), y1=px_y(yy),
                               line=dict(color=col, width=4)))
            annotations.append(paper_text(txt, lg["tx"], yy, 12, xanchor="left"))
    for txt, lx, ly in spec.get("labels", []):
        annotations.append(dict(x=lx, y=ly, xref="x" + sid, yref="y" + sid, text=txt,
                                showarrow=False, xanchor="center", yanchor="middle",
                                font=dict(family=ARIAL, size=12, color="#333333")))

# panel letters
letters = [("B)", 123, 47), ("C)", 467, 47), ("D)", 773, 47),
           ("E)", 123, 270), ("F)", 467, 270), ("G)", 773, 270),
           ("H)", 123, 492), ("I)", 463, 492), ("J)", 770, 492),
           ("K)", 123, 715), ("L)", 465, 715), ("M)", 773, 715)]
for t, x, y in letters:
    annotations.append(paper_text(t, x, y, 22, family=CALIBRI))

# column headers
for t, x, y in [("11CR", 305, 50), ("ATR", 592, 50), ("Acid Protonation", 945, 20),
                ("of ATR Binding", 950, 53)]:
    annotations.append(paper_text(t, x, y, 26, family=CALIBRI))

# row labels
for t, x, y, s in [("M257Y-CAM" + TH, 97, 162, 22), ("WT" + TH, 97, 375, 22),
                   ("WT" + TH, 97, 592, 22), ("M257Y-CAM" + TH, 97, 810, 22),
                   ("G<sub>t</sub> C-term (Peptide, Fusion)", 27, 272, 26),
                   ("Arr Peptide", 27, 702, 25)]:
    annotations.append(paper_text(t, x, y, s, family=CALIBRI, angle=-90))

layout["annotations"] = annotations
layout["shapes"] = shapes
fig.update_layout(**layout)
fig.write_html("out.html")
